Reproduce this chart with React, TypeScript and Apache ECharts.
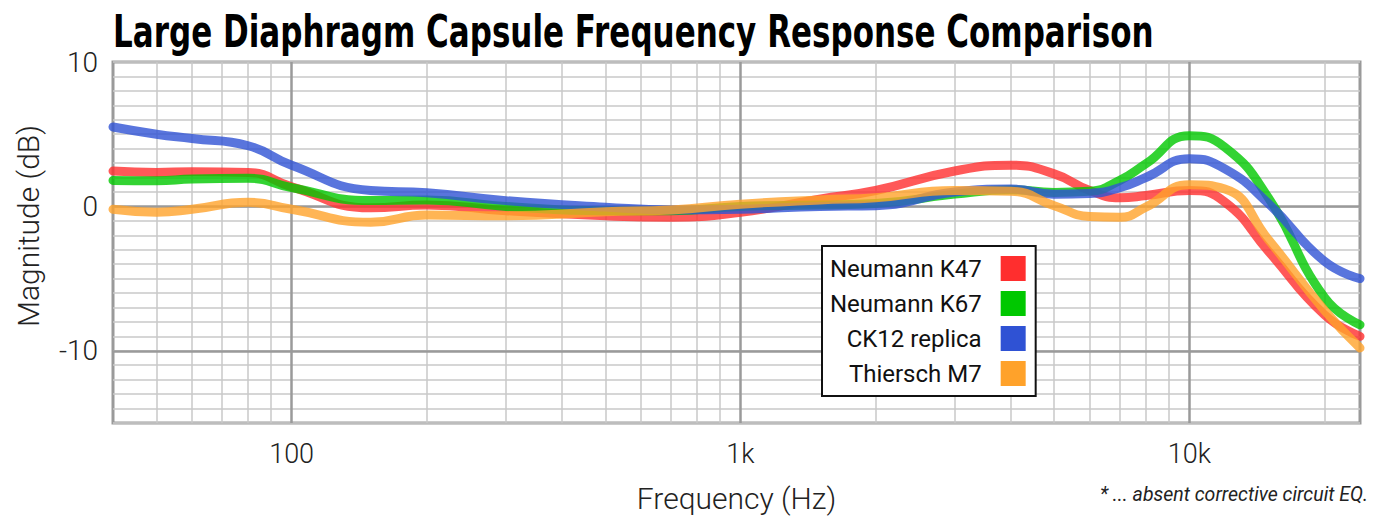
import React, { useEffect, useRef } from "react";
import * as echarts from "echarts";

const LIGHT = "Roboto, 'Noto Sans', sans-serif";
const BOLD = "'DejaVu Sans', sans-serif";

const freqs = [40, 50, 60, 80, 100, 150, 200, 300, 500, 700, 1000, 1500, 2000, 3000, 4000, 5000, 6000, 7000, 8000, 10000, 12000, 15000, 20000, 24000];
const k47 = [2.45, 2.35, 2.4, 2.35, 1.35, -0.1, 0.1, -0.3, -0.65, -0.75, -0.4, 0.5, 1.1, 2.45, 2.85, 2.25, 1.1, 0.6, 0.75, 1.1, 0.3, -3.1, -7.5, -9.0];
const k67 = [1.8, 1.78, 1.9, 1.95, 1.3, 0.4, 0.44, 0.0, -0.3, -0.3, 0.0, 0.1, 0.2, 0.85, 1.15, 0.97, 1.05, 1.8, 2.95, 4.9, 4.1, 0.6, -6.3, -8.2];
const ck12 = [5.5, 5.0, 4.7, 4.2, 2.85, 1.1, 0.95, 0.4, -0.05, -0.25, -0.2, 0.0, 0.05, 1.0, 1.2, 0.85, 0.9, 1.3, 2.0, 3.3, 2.6, 0.2, -3.8, -5.0];
const m7 = [-0.2, -0.4, -0.2, 0.28, -0.2, -1.1, -0.6, -0.65, -0.37, -0.25, 0.15, 0.45, 0.6, 1.1, 1.05, 0.05, -0.7, -0.75, -0.05, 1.5, 1.2, -2.3, -7.2, -9.8];

const seriesNames = ["Neumann K47", "Neumann K67", "CK12 replica", "Thiersch M7"];
const seriesColors = ["#ff2e2e", "#00c800", "#2f52d4", "#ffa22a"];
const seriesValues = [k47, k67, ck12, m7];

const minorFreqs = [50, 60, 70, 80, 90, 200, 300, 400, 500, 600, 700, 800, 900, 2000, 3000, 4000, 5000, 6000, 7000, 8000, 9000, 20000];
const majorFreqs = [100, 1000, 10000];
const majorDb = [0, -10];
const yLabels = [10, 0, -10];
const xLabelMap: Record<number, string> = { 100: "100", 1000: "1k", 10000: "10k" };

const titleText = "Large Diaphragm Capsule Frequency Response Comparison";
const yName = "Magnitude (dB)";
const xName = "Frequency (Hz)";
const footnote = "* ... absent corrective circuit EQ.";

export default function App() {
  const ref = useRef<HTMLDivElement>(null);
  useEffect(() => {
    if (!ref.current) return;
    const chart = echarts.init(ref.current, undefined, { renderer: "svg" });
    const gridLines: any[] = [];
    minorFreqs.forEach((f) => gridLines.push({ xAxis: f, lineStyle: { color: "#c8c8c8", width: 1.5, type: "solid" } }));
    majorFreqs.forEach((f) => gridLines.push({ xAxis: f, lineStyle: { color: "#9a9a9a", width: 2.5, type: "solid" } }));
    majorDb.forEach((d) => gridLines.push({ yAxis: d, lineStyle: { color: "#9a9a9a", width: 2.5, type: "solid" } }));

    const option: any = {
      animation: false,
      grid: {
        left: 113,
        right: 16,
        top: 62,
        bottom: 98,
        show: true,
        borderColor: "#9a9a9a",
        borderWidth: 3,
        backgroundColor: "#fff",
      },
      xAxis: {
        type: "log",
        logBase: 10,
        min: 40,
        max: 24000,
        name: xName,
        nameLocation: "middle",
        nameGap: 60,
        nameTextStyle: { fontFamily: LIGHT, fontWeight: 300, fontSize: 30, color: "#222" },
        axisLine: { show: false },
        axisTick: { show: false },
        splitLine: { show: false },
        axisLabel: {
          fontFamily: LIGHT,
          fontWeight: 300,
          fontSize: 27,
          color: "#222",
          margin: 17,
          formatter: (v: number) => xLabelMap[Math.round(v)] ?? "",
        },
      },
      yAxis: {
        type: "value",
        min: -15,
        max: 10,
        interval: 1,
        axisLine: { show: false },
        axisTick: { show: false },
        splitLine: { show: true, lineStyle: { color: "#c8c8c8", width: 1.5 } },
        axisLabel: {
          fontFamily: LIGHT,
          fontWeight: 300,
          fontSize: 28,
          color: "#222",
          margin: 15,
          formatter: (v: number) => (yLabels.includes(Math.round(v)) && Math.abs(v - Math.round(v)) < 1e-6 ? String(Math.round(v)) : ""),
        },
      },
      legend: {
        data: seriesNames,
        orient: "vertical",
        align: "right",
        left: 822,
        top: 246,
        icon: "rect",
        itemWidth: 25,
        itemHeight: 25,
        itemGap: 10,
        padding: [10, 10, 10, 8],
        backgroundColor: "#fff",
        borderColor: "#111",
        borderWidth: 2,
        borderRadius: 0,
        selectedMode: false,
        textStyle: { fontFamily: LIGHT, fontSize: 24, color: "#111", padding: [0, 14, 0, 0] },
      },
      graphic: [
        {
          type: "text",
          x: 113,
          y: 10,
          scaleX: 0.705,
          style: {
            text: titleText,
            fontFamily: BOLD,
            fontWeight: "bold",
            fontSize: 44,
            fill: "#000",
          },
        },
        {
          type: "text",
          x: 28,
          y: 226,
          rotation: Math.PI / 2,
          style: {
            text: yName,
            fontFamily: LIGHT,
            fontWeight: 300,
            fontSize: 30,
            fill: "#222",
            align: "center",
            verticalAlign: "middle",
          },
        },
        {
          type: "text",
          right: 8,
          top: 484,
          style: {
            text: footnote,
            fontFamily: LIGHT,
            fontStyle: "italic",
            fontSize: 19.5,
            fill: "#222",
          },
        },
      ],
      series: [
        {
          type: "line",
          name: "__grid",
          data: [],
          silent: true,
          markLine: {
            silent: true,
            z: 1,
            symbol: ["none", "none"],
            label: { show: false },
            emphasis: { disabled: true },
            data: gridLines,
          },
        },
        ...seriesNames.map((name, si) => ({
          type: "line",
          name,
          z: 3,
          data: freqs.map((f, i) => [f, seriesValues[si][i]]),
          smooth: 0.5,
          showSymbol: false,
          symbol: "none",
          color: seriesColors[si],
          itemStyle: { color: seriesColors[si] },
          lineStyle: { width: 9, color: seriesColors[si], opacity: 0.8, cap: "round" },
        })),
      ],
    };
    chart.setOption(option);
    return () => chart.dispose();
  }, []);
  return <div ref={ref} style={{ position: "absolute", left: 0, top: 0, width: 1376, height: 521 }} />;
}
